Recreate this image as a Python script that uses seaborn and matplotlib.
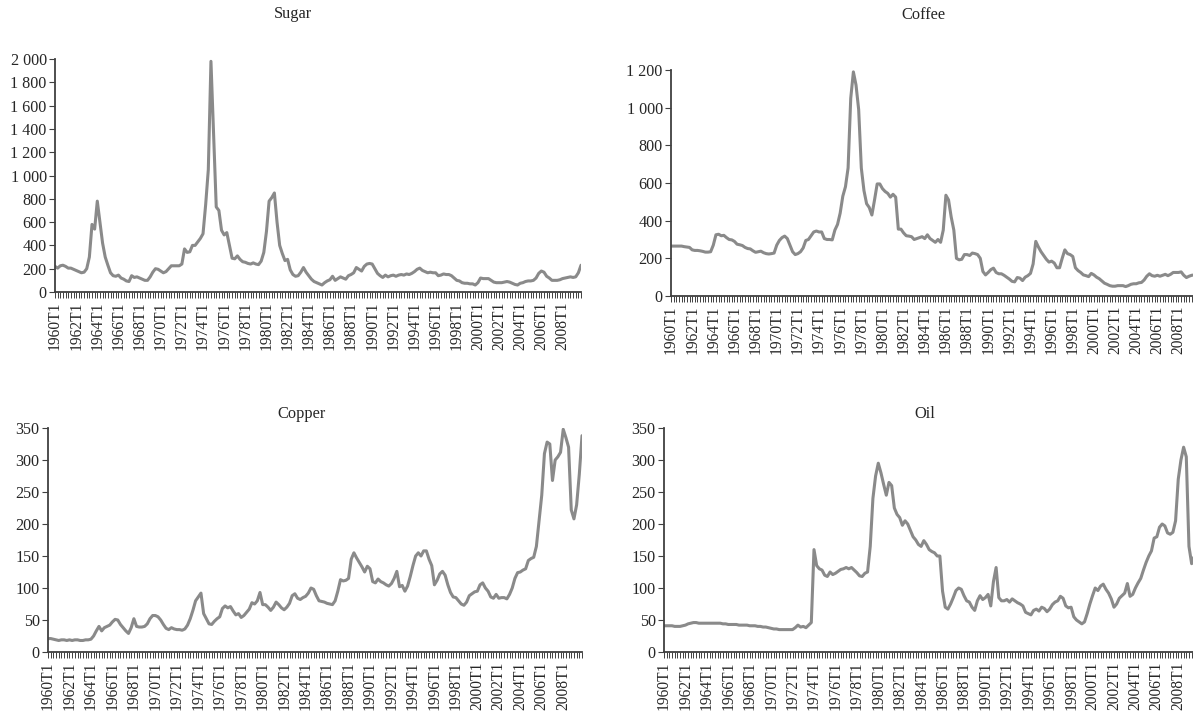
import numpy as np
import pandas as pd
import matplotlib
matplotlib.use("Agg")
import matplotlib.pyplot as plt
import seaborn as sns
from matplotlib.ticker import FuncFormatter

sns.set_style("ticks")
plt.rcParams["font.family"] = ["Liberation Serif", "DejaVu Serif"]

# Quarterly price indices, 1960T1 .. 2009T4
quarters = [f"{y}T{q}" for y in range(1960, 2010) for q in range(1, 5)]

sugar = [
    220, 205, 225, 230, 220, 205, 205, 195, 185, 175, 165, 170,
    200, 300, 580, 540, 780, 600, 420, 300, 230, 165, 140, 135,
    145, 120, 110, 95, 90, 140, 125, 130, 120, 110, 100, 100,
    130, 170, 200, 195, 180, 165, 175, 200, 225, 225, 225, 225,
    240, 370, 340, 345, 400, 400, 430, 460, 500, 750, 1050, 1980,
    1350, 730, 700, 530, 490, 510, 400, 290, 285, 310, 280, 260,
    255, 245, 240, 250, 240, 235, 265, 340, 520, 780, 810, 850,
    600, 400, 330, 270, 280, 190, 150, 135, 140, 170, 210, 170,
    140, 110, 90, 80, 70, 60, 80, 95, 105, 135, 100, 115,
    130, 120, 110, 140, 150, 165, 210, 195, 180, 220, 240, 245,
    240, 200, 160, 140, 125, 145, 130, 140, 145, 135, 145, 150,
    145, 155, 150, 160, 175, 195, 205, 185, 175, 165, 170, 165,
    165, 140, 145, 155, 150, 150, 140, 120, 100, 95, 80, 75,
    75, 70, 70, 60, 80, 120, 115, 115, 115, 100, 85, 80,
    80, 80, 85, 90, 85, 75, 65, 60, 75, 80, 90, 95,
    95, 100, 120, 160, 180, 170, 135, 120, 100, 100, 100, 105,
    115, 120, 125, 130, 125, 130, 165, 230,
]

coffee = [
    265, 265, 265, 265, 265, 262, 260, 258, 245, 242, 242, 240,
    237, 233, 233, 235, 270, 325, 328, 320, 322, 310, 300, 298,
    290, 275, 272, 268, 258, 252, 250, 240, 232, 235, 238, 230,
    225, 223, 225, 228, 270, 295, 310, 318, 305, 270, 235, 220,
    225, 235, 255, 295, 300, 320, 340, 345, 340, 340, 305, 300,
    300, 298, 350, 380, 440, 530, 580, 680, 1050, 1190, 1120, 990,
    680, 560, 490, 470, 430, 510, 595, 595, 570, 555, 545, 525,
    540, 525, 355, 355, 335, 320, 318, 315, 300, 305, 310, 315,
    305, 325, 305, 295, 285, 300, 285, 350, 535, 510, 420, 350,
    200, 192, 195, 220, 220, 215, 228, 225, 220, 200, 130, 112,
    125, 140, 148, 125, 118, 118, 110, 100, 90, 78, 75, 98,
    95, 82, 100, 108, 120, 170, 290, 260, 235, 215, 195, 180,
    185, 175, 150, 150, 200, 245, 225, 220, 210, 150, 135, 125,
    112, 108, 103, 120, 112, 100, 92, 80, 68, 62, 55, 52,
    52, 55, 55, 55, 50, 55, 62, 65, 65, 70, 72, 85,
    105, 118, 108, 105, 110, 105, 110, 115, 108, 115, 125, 125,
    125, 128, 110, 98, 105, 110, 112, 115,
]

copper = [
    21, 21, 20, 19, 18, 19, 19, 18, 19, 18, 19, 19,
    18, 18, 19, 19, 20, 25, 33, 40, 33, 38, 40, 42,
    47, 51, 50, 43, 38, 33, 29, 38, 52, 40, 39, 39,
    40, 44, 52, 57, 57, 55, 50, 43, 37, 35, 38, 36,
    35, 35, 34, 36, 42, 52, 65, 80, 86, 92, 60, 52,
    44, 43, 48, 52, 55, 68, 72, 69, 71, 64, 58, 60,
    54, 57, 62, 67, 77, 75, 80, 93, 74, 74, 70, 65,
    70, 78, 74, 69, 66, 70, 76, 88, 91, 84, 82, 85,
    87, 92, 100, 98, 88, 80, 79, 78, 76, 75, 74, 80,
    95, 113, 111, 112, 115, 145, 155, 147, 140, 133, 125, 134,
    130, 110, 108, 114, 110, 108, 105, 103, 107, 115, 126, 102,
    104, 95, 103, 118, 135, 150, 155, 150, 158, 158, 145, 135,
    105, 112, 122, 126, 120, 105, 93, 86, 85, 80, 75, 73,
    78, 88, 91, 94, 95, 105, 108, 100, 95, 86, 84, 90,
    84, 85, 85, 83, 90, 100, 115, 124, 125, 128, 130, 143,
    146, 148, 165, 205, 245, 310, 328, 325, 268, 300, 305, 312,
    348, 335, 320, 222, 208, 230, 278, 338,
]

oil = [
    41, 41, 41, 41, 40, 40, 40, 41, 42, 44, 45, 46,
    46, 45, 45, 45, 45, 45, 45, 45, 45, 45, 44, 44,
    43, 43, 43, 43, 42, 42, 42, 42, 41, 41, 41, 40,
    40, 39, 39, 38, 37, 36, 36, 35, 35, 35, 35, 35,
    35, 38, 42, 39, 40, 38, 42, 46, 160, 135, 130, 128,
    120, 118, 125, 121, 123, 126, 129, 130, 132, 130, 132, 128,
    124, 119, 118, 123, 125, 165, 240, 275, 295, 280, 262, 245,
    265, 260, 225, 215, 210, 198, 205, 200, 190, 180, 175, 168,
    165, 174, 168, 160, 157, 155, 150, 150, 95, 70, 67, 75,
    85, 96, 100, 98, 88, 80, 78, 70, 65, 80, 88, 82,
    85, 90, 72, 110, 132, 85, 80, 80, 82, 78, 83, 80,
    77, 75, 72, 62, 60, 58, 65, 67, 64, 70, 68, 63,
    67, 74, 78, 80, 87, 84, 72, 69, 70, 55, 50, 47,
    44, 47, 60, 75, 88, 100, 96, 103, 106, 98, 92, 83,
    70, 75, 84, 88, 92, 107, 87, 90, 100, 108, 115, 128,
    140, 150, 158, 178, 180, 195, 200, 197, 186, 184, 187, 205,
    270, 300, 320, 305, 165, 138, 150, 165,
]

W, H = 1193, 713
fig = plt.figure(figsize=(W / 100, H / 100), dpi=100)
fig.patch.set_facecolor("white")

LINE = "#8a8a8a"
AXIS = "#404040"
FS_Y = 11.6
FS_X = 11.2
FS_T = 11.8


def px_rect(left, right, top, bottom):
    return [left / W, 1 - bottom / H, (right - left) / W, (bottom - top) / H]


def thousands(v, _):
    return f"{int(round(v)):,}".replace(",", " ")


panels = [
    (sugar, "Sugar", px_rect(55, 581, 59, 292), 2000, 200, (293, 14)),
    (coffee, "Coffee", px_rect(671, 1197, 70, 296), 1200, 200, (923, 15)),
    (copper, "Copper", px_rect(48, 582, 428, 652), 350, 50, (302, 414)),
    (oil, "Oil", px_rect(664, 1197, 428, 652), 350, 50, (925, 414)),
]

for values, title, rect, ymax, step, (tx, ty) in panels:
    ax = fig.add_axes(rect)
    n = len(values)
    df = pd.DataFrame({"t": np.arange(n), "v": values})
    sns.lineplot(data=df, x="t", y="v", ax=ax, color=LINE, linewidth=2.2,
                 solid_joinstyle="round", solid_capstyle="round")
    ax.set_xlim(0, n - 1)
    ax.set_ylim(0, ymax)
    ax.set_yticks(np.arange(0, ymax + 1, step))
    ax.yaxis.set_major_formatter(FuncFormatter(thousands))
    major = list(range(0, n, 8))
    ax.set_xticks(major)
    ax.set_xticklabels([quarters[i] for i in major], rotation=90)
    ax.set_xticks(range(n), minor=True)
    ax.tick_params(axis="x", which="both", length=4, width=0.7, color=AXIS,
                   labelsize=FS_X, pad=3)
    ax.tick_params(axis="y", which="major", length=4, width=0.8, color=AXIS,
                   labelsize=FS_Y, pad=2)
    ax.set_xlabel("")
    ax.set_ylabel("")
    for side in ("top", "right"):
        ax.spines[side].set_visible(False)
    for side in ("left", "bottom"):
        ax.spines[side].set_color(AXIS)
        ax.spines[side].set_linewidth(1.3)
    ax.patch.set_alpha(0)
    fig.text(tx / W, 1 - ty / H, title, ha="center", va="center", fontsize=FS_T)

fig.savefig("out.png", dpi=100, facecolor="white")
